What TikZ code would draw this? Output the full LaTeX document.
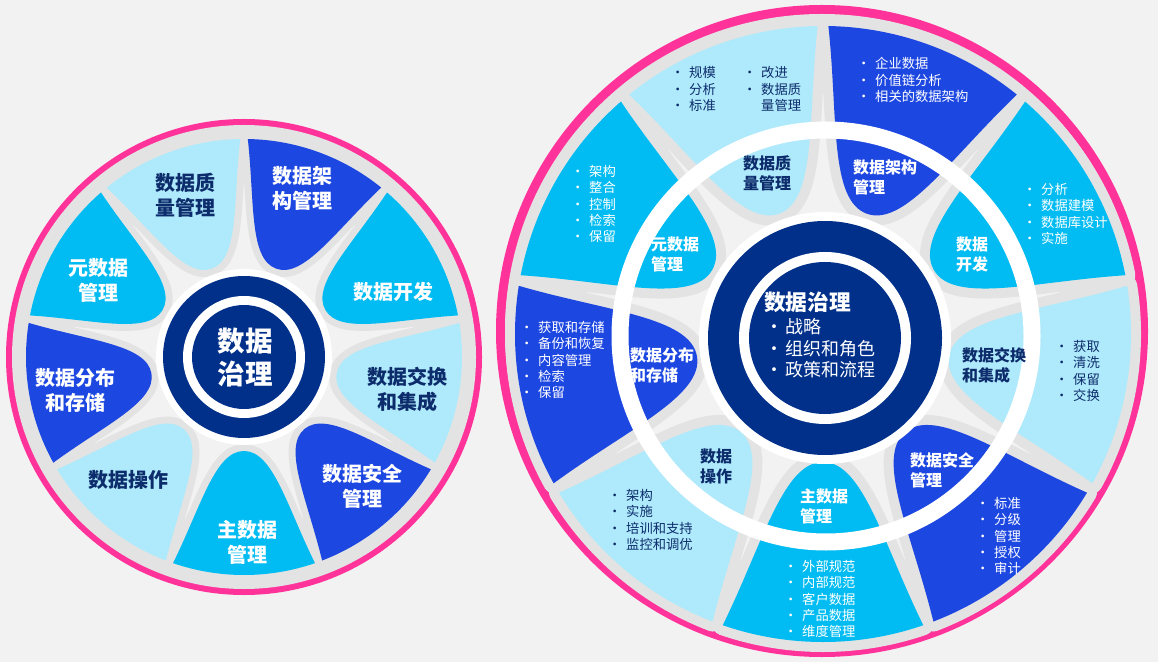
\documentclass[tikz,border=0pt]{standalone}
\usepackage{fontspec}
\setmainfont{Noto Sans CJK SC}
\definecolor{plight}{HTML}{AEEAFB}
\definecolor{pcyan}{HTML}{00BCF2}
\definecolor{pdark}{HTML}{1D47E1}
\definecolor{navy}{HTML}{00308A}
\definecolor{tnavy}{HTML}{0D2C6C}
\definecolor{band}{HTML}{E3E3E3}
\definecolor{lbg}{HTML}{F2F2F2}
\definecolor{ppink}{HTML}{FF339A}
\newcommand\bu{\makebox[18pt][l]{\textbullet}}
\newcommand\cbu{\makebox[20pt][l]{\textbullet}}
\begin{document}
\begin{tikzpicture}[x=1pt,y=1pt,
  lbl/.style={font=\bfseries\fontsize{20}{25}\selectfont, align=center, inner sep=0},
  ilbl/.style={font=\bfseries\fontsize{16}{20}\selectfont, align=left, anchor=west, inner sep=0},
  blist/.style={font=\fontsize{13.3}{16.3}\selectfont, align=left, anchor=west, inner sep=0},
  wt/.style={text=white}, nt/.style={text=tnavy}]
\fill[lbg] (0,0) rectangle (1158,662);
\useasboundingbox (0,0) rectangle (1158,662);

% ---------- left wheel ----------
\fill[ppink] (244,305) circle[radius=238];
\fill[band] (244,305) circle[radius=232];
\fill[lbg] (244,305) circle[radius=172];
\foreach \a in {110,70,30,-10,-50,-90,-130,-170,150}{
  \draw[band, line width=14, line join=round, shift={(244,305)}, rotate=\a]
    (19:218) arc[start angle=19,end angle=-19,radius=218]
    .. controls (-16:155) and (94,-29) .. (94,0)
    .. controls (94,29) and (16:155) .. cycle;
}
\foreach \a/\c in {110/plight,70/pdark,30/pcyan,-10/plight,-50/pdark,-90/pcyan,-130/plight,-170/pdark,150/pcyan}{
  \fill[\c, shift={(244,305)}, rotate=\a]
    (19:218) arc[start angle=19,end angle=-19,radius=218]
    .. controls (-16:155) and (94,-29) .. (94,0)
    .. controls (94,29) and (16:155) .. cycle;
}
\fill[white] (244,305) circle[radius=88];
\fill[navy] (244,305) circle[radius=81];
\fill[white] (244,305) circle[radius=61];
\fill[navy] (244,305) circle[radius=52];
\node[lbl, text=white, font=\bfseries\fontsize{27.5}{33}\selectfont] (lc) at (245,304) {数据\\治理};
\node[lbl, nt] (lq) at (185,467) {数据质\\量管理};
\node[lbl, wt] (lj) at (302,474) {数据架\\构管理};
\node[lbl, wt] (ly) at (98,382) {元数据\\管理};
\node[lbl, wt] (lk) at (393,370) {数据开发};
\node[lbl, wt] (lf) at (75,272) {数据分布\\和存储};
\node[lbl, nt] (lh) at (407,273) {数据交换\\和集成};
\node[lbl, nt] (lo) at (128,182) {数据操作};
\node[lbl, wt] (lz) at (247,120) {主数据\\管理};
\node[lbl, wt] (la) at (362,176) {数据安全\\管理};

% ---------- right wheel ----------
\fill[ppink] (822,331) circle[radius=326];
\fill[band] (822,331) circle[radius=317];
\fill[lbg] (823,328) circle[radius=240];
\foreach \a in {110,70,30,-10,-50,-90,-130,-170,150}{
  \draw[band, line width=20, line join=round, shift={(823,328)}, rotate=\a]
    (19:308) arc[start angle=19,end angle=-19,radius=308]
    .. controls (-16:218) and (128,-40) .. (128,0)
    .. controls (128,40) and (16:218) .. cycle;
}
\foreach \a/\c in {110/plight,70/pdark,30/pcyan,-10/plight,-50/pdark,-90/pcyan,-130/plight,-170/pdark,150/pcyan}{
  \fill[\c, shift={(823,328)}, rotate=\a]
    (19:308) arc[start angle=19,end angle=-19,radius=308]
    .. controls (-16:218) and (128,-40) .. (128,0)
    .. controls (128,40) and (16:218) .. cycle;
}
\draw[white, line width=17] (826,326) circle[radius=206];
\fill[white] (825,324) circle[radius=126];
\fill[navy] (825,324) circle[radius=117];
\fill[white] (825,324) circle[radius=86];
\fill[navy] (825,324) circle[radius=76];

\node[anchor=west, inner sep=0, font=\bfseries\fontsize{21.7}{26}\selectfont, text=white] (rc) at (764,360) {数据治理};
\node[anchor=west, inner sep=0, align=left, font=\fontsize{18}{21.5}\selectfont, text=white] (rcl) at (765,313.5) {\cbu 战略\\\cbu 组织和角色\\\cbu 政策和流程};

\node[ilbl, nt] (q2) at (743,488.5) {数据质\\量管理};
\node[ilbl, wt] (j2) at (853,484.5) {数据架构\\管理};
\node[ilbl, wt] (y2) at (651,408) {元数据\\管理};
\node[ilbl, wt] (k2) at (956,407.5) {数据\\开发};
\node[ilbl, wt] (f2) at (630,297) {数据分布\\和存储};
\node[ilbl, nt] (h2) at (962,297) {数据交换\\和集成};
\node[ilbl, nt] (c2) at (700,196) {数据\\操作};
\node[ilbl, wt] (z2) at (800,156) {主数据\\管理};
\node[ilbl, wt] (a2) at (910,191.5) {数据安全\\管理};

\node[blist, nt] (q3a) at (671,573) {\bu 规模\\\bu 分析\\\bu 标准};
\node[blist, nt] (q3b) at (743,573) {\bu 改进\\\bu 数据质\\\makebox[18pt]{}量管理};
\node[blist, wt] (j3) at (857,582) {\bu 企业数据\\\bu 价值链分析\\\bu 相关的数据架构};
\node[blist, wt] (k3) at (1023,448) {\bu 分析\\\bu 数据建模\\\bu 数据库设计\\\bu 实施};
\node[blist, wt] (y3) at (571,458) {\bu 架构\\\bu 整合\\\bu 控制\\\bu 检索\\\bu 保留};
\node[blist, wt] (f3) at (520,302) {\bu 获取和存储\\\bu 备份和恢复\\\bu 内容管理\\\bu 检索\\\bu 保留};
\node[blist, nt] (h3) at (1055,291) {\bu 获取\\\bu 清洗\\\bu 保留\\\bu 交换};
\node[blist, wt] (a3) at (976,126) {\bu 标准\\\bu 分级\\\bu 管理\\\bu 授权\\\bu 审计};
\node[blist, nt] (c3) at (608,142) {\bu 架构\\\bu 实施\\\bu 培训和支持\\\bu 监控和调优};
\node[blist, wt] (z3) at (784,63) {\bu 外部规范\\\bu 内部规范\\\bu 客户数据\\\bu 产品数据\\\bu 维度管理};
\end{tikzpicture}
\end{document}
